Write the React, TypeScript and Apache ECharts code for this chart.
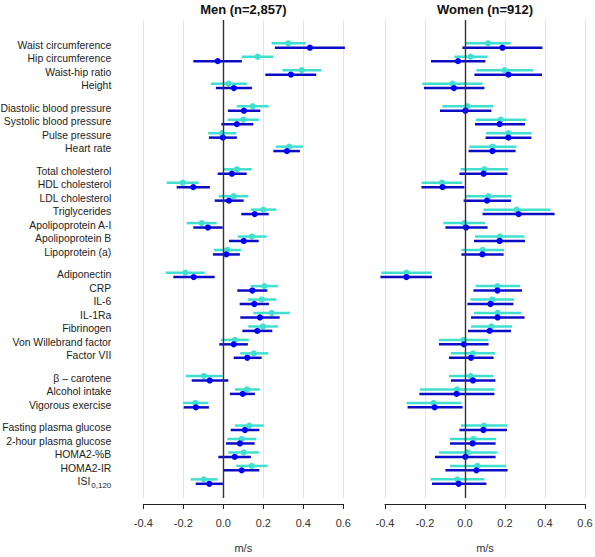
import React, { useEffect, useRef } from "react";
import * as echarts from "echarts";

const labels = [
  "Waist circumference", "Hip circumference", "Waist-hip ratio", "Height",
  "Diastolic blood pressure", "Systolic blood pressure", "Pulse pressure", "Heart rate",
  "Total cholesterol", "HDL cholesterol", "LDL cholesterol", "Triglycerides", "Apolipoprotein A-I", "Apolipoprotein B", "Lipoprotein (a)",
  "Adiponectin", "CRP", "IL-6", "IL-1Ra", "Fibrinogen", "Von Willebrand factor", "Factor VII",
  "β – carotene", "Alcohol intake", "Vigorous exercise",
  "Fasting plasma glucose", "2-hour plasma glucose", "HOMA2-%B", "HOMA2-IR", "ISI_0,120",
];
const groupSizes = [4, 4, 7, 7, 3, 5];
const xTicks = [-0.4, -0.2, 0.0, 0.2, 0.4, 0.6];

// [estimate, lower, upper]
const menCyan = [
  [0.325, 0.242, 0.412], [0.172, 0.093, 0.25], [0.392, 0.295, 0.49], [0.027, -0.062, 0.118],
  [0.147, 0.067, 0.227], [0.1, 0.022, 0.178], [-0.007, -0.075, 0.065], [0.33, 0.263, 0.398],
  [0.068, -0.002, 0.142], [-0.203, -0.283, -0.123], [0.052, -0.022, 0.125], [0.2, 0.137, 0.265],
  [-0.108, -0.183, -0.033], [0.143, 0.072, 0.217], [0.02, -0.047, 0.088],
  [-0.19, -0.288, -0.093], [0.205, 0.137, 0.273], [0.192, 0.122, 0.265], [0.242, 0.15, 0.333],
  [0.198, 0.125, 0.273], [0.058, -0.012, 0.128], [0.153, 0.085, 0.225],
  [-0.097, -0.187, -0.003], [0.118, 0.058, 0.182], [-0.14, -0.202, -0.075],
  [0.13, 0.058, 0.202], [0.092, 0.02, 0.165], [0.102, 0.025, 0.178], [0.142, 0.065, 0.222], [-0.098, -0.163, -0.028],
];
const menBlue = [
  [0.433, 0.258, 0.608], [-0.028, -0.15, 0.093], [0.338, 0.21, 0.465], [0.053, -0.037, 0.143],
  [0.103, 0.023, 0.185], [0.068, -0.01, 0.15], [-0.002, -0.072, 0.068], [0.318, 0.25, 0.383],
  [0.043, -0.028, 0.117], [-0.15, -0.233, -0.067], [0.028, -0.043, 0.102], [0.157, 0.09, 0.227],
  [-0.077, -0.15, -0.003], [0.102, 0.028, 0.177], [0.015, -0.052, 0.083],
  [-0.148, -0.25, -0.043], [0.145, 0.07, 0.22], [0.155, 0.082, 0.228], [0.183, 0.085, 0.282],
  [0.17, 0.095, 0.245], [0.052, -0.02, 0.123], [0.12, 0.052, 0.192],
  [-0.068, -0.158, 0.025], [0.097, 0.033, 0.158], [-0.137, -0.198, -0.072],
  [0.108, 0.037, 0.18], [0.083, 0.013, 0.157], [0.057, -0.025, 0.138], [0.092, 0.003, 0.18], [-0.07, -0.138, -0.002],
];
const womenCyan = [
  [0.115, 0.0, 0.228], [0.028, -0.053, 0.113], [0.198, 0.057, 0.34], [-0.063, -0.213, 0.087],
  [0.012, -0.113, 0.14], [0.178, 0.055, 0.305], [0.217, 0.105, 0.333], [0.138, 0.022, 0.257],
  [0.097, -0.022, 0.215], [-0.115, -0.217, -0.015], [0.117, 0.0, 0.233], [0.258, 0.092, 0.427],
  [-0.003, -0.108, 0.1], [0.175, 0.05, 0.298], [0.088, -0.018, 0.195],
  [-0.293, -0.418, -0.167], [0.162, 0.053, 0.275], [0.137, 0.027, 0.245], [0.163, 0.045, 0.282],
  [0.132, 0.03, 0.235], [-0.007, -0.13, 0.117], [0.04, -0.07, 0.15],
  [0.028, -0.08, 0.14], [-0.04, -0.225, 0.148], [-0.157, -0.292, -0.018],
  [0.095, -0.02, 0.213], [0.042, -0.075, 0.155], [0.013, -0.13, 0.16], [0.062, -0.075, 0.205], [-0.038, -0.172, 0.097],
];
const womenBlue = [
  [0.187, -0.013, 0.387], [-0.035, -0.17, 0.102], [0.217, 0.047, 0.385], [-0.055, -0.205, 0.097],
  [0.002, -0.125, 0.132], [0.173, 0.05, 0.3], [0.217, 0.103, 0.332], [0.137, 0.018, 0.253],
  [0.093, -0.028, 0.212], [-0.112, -0.218, -0.003], [0.11, -0.007, 0.23], [0.268, 0.088, 0.448],
  [0.005, -0.098, 0.113], [0.173, 0.045, 0.3], [0.087, -0.018, 0.193],
  [-0.293, -0.423, -0.165], [0.162, 0.042, 0.285], [0.127, 0.012, 0.242], [0.163, 0.03, 0.298],
  [0.123, 0.015, 0.23], [-0.005, -0.13, 0.118], [0.03, -0.08, 0.143],
  [0.04, -0.07, 0.152], [-0.042, -0.228, 0.147], [-0.152, -0.287, -0.012],
  [0.092, -0.028, 0.21], [0.038, -0.075, 0.153], [0.002, -0.15, 0.153], [0.057, -0.098, 0.213], [-0.032, -0.165, 0.107],
];

const GROUP_GAP = 0.684;
const PAIR_OFFSET = 0.165;

function rowPositions(): number[] {
  const pos: number[] = [];
  let i = 0;
  groupSizes.forEach((n, g) => {
    for (let k = 0; k < n; k++) {
      pos.push(i + g * GROUP_GAP);
      i++;
    }
  });
  return pos;
}

const CYAN = "#40e0d0";
const BLUE_BAR = "#0c0cc4";
const BLUE_DOT = "#0000ff";
const FONT = "Liberation Sans, Arial, sans-serif";

export default function App() {
  const ref = useRef<HTMLDivElement>(null);
  useEffect(() => {
    if (!ref.current) return;
    const chart = echarts.init(ref.current, undefined, { renderer: "svg" });
    const pos = rowPositions();
    const yMin = -1.896;
    const yMax = 33.64;

    const mkData = (arr: number[][], off: number) =>
      arr.map((d, i) => [d[0], d[1], d[2], pos[i] + off]);

    const mkSeries = (arr: number[][], off: number, grid: number, barColor: string, dotColor: string, withZero: boolean) => ({
      type: "custom",
      xAxisIndex: grid,
      yAxisIndex: grid,
      data: mkData(arr, off),
      encode: { x: [0, 1, 2], y: 3 },
      renderItem: (params: any, api: any) => {
        const y = api.value(3);
        const c = api.coord([api.value(0), y]);
        const a = api.coord([api.value(1), y]);
        const b = api.coord([api.value(2), y]);
        return {
          type: "group",
          children: [
            { type: "line", shape: { x1: a[0], y1: a[1], x2: b[0], y2: b[1] }, style: { stroke: barColor, lineWidth: 2.5 } },
            { type: "circle", shape: { cx: c[0], cy: c[1], r: 3.1 }, style: { fill: dotColor } },
          ],
        };
      },
      markLine: withZero
        ? {
            silent: true,
            symbol: ["none", "none"],
            label: { show: false },
            lineStyle: { color: "#333", width: 1.4, type: "solid" },
            data: [{ xAxis: 0 }],
          }
        : undefined,
      z: off < 0 ? 3 : 4,
    });

    const labelSeries = {
      type: "custom",
      xAxisIndex: 0,
      yAxisIndex: 0,
      clip: false,
      silent: true,
      data: pos.map((p, i) => [xTicks[0], p, i]),
      encode: { x: 0, y: 1 },
      renderItem: (params: any, api: any) => {
        const pt = api.coord([api.value(0), api.value(1)]);
        const s = labels[api.value(2)];
        const isSub = s.indexOf("_") >= 0;
        const text = isSub ? "{m|" + s.split("_")[0] + "}{sub|" + s.split("_")[1] + "}" : s;
        return {
          type: "text",
          x: pt[0] - 32,
          y: pt[1],
          style: {
            text,
            textAlign: "right",
            textVerticalAlign: "middle",
            fontSize: 10.4,
            fontFamily: FONT,
            fill: "#222",
            rich: {
              m: { fontSize: 10.4, fontFamily: FONT, fill: "#222", color: "#222", lineHeight: 13 },
              sub: { fontSize: 8, fontFamily: FONT, fill: "#222", color: "#222", padding: [7, 0, 0, 1], lineHeight: 13 },
            },
          },
        };
      },
    };

    const xAxisCommon = (gridIndex: number) => ({
      type: "value",
      gridIndex,
      min: xTicks[0],
      max: xTicks[xTicks.length - 1],
      interval: 0.2,
      offset: 6,
      name: "m/s",
      nameLocation: "middle",
      nameGap: 38,
      nameTextStyle: { color: "#333", fontSize: 11, fontFamily: FONT },
      axisLine: { show: true, onZero: false, lineStyle: { color: "#222", width: 1 } },
      axisTick: { show: true, length: 5, lineStyle: { color: "#222" } },
      axisLabel: {
        color: "#333",
        fontSize: 11,
        fontFamily: FONT,
        margin: 13,
        formatter: (v: number) => v.toFixed(1),
      },
      splitLine: { show: true, lineStyle: { color: "#e4e4e4", width: 1 } },
    });

    const hiddenY = (gridIndex: number) => ({
      type: "value",
      gridIndex,
      min: yMin,
      max: yMax,
      inverse: true,
      axisLine: { show: false },
      axisTick: { show: false },
      splitLine: { show: false },
      axisLabel: { show: false },
    });

    const option: any = {
      animation: false,
      backgroundColor: "#ffffff",
      grid: [
        { left: 143.3, width: 200, top: 20, height: 478, containLabel: false, outerBoundsMode: "none" },
        { left: 385, width: 200, top: 20, height: 478, containLabel: false, outerBoundsMode: "none" },
      ],
      xAxis: [xAxisCommon(0), xAxisCommon(1)],
      yAxis: [hiddenY(0), hiddenY(1)],
      graphic: [
        {
          type: "text",
          x: 243.3,
          y: 3,
          style: { text: "Men (n=2,857)", fontSize: 13, fontWeight: "bold", fontFamily: FONT, fill: "#111", textAlign: "center" },
        },
        {
          type: "text",
          x: 485,
          y: 3,
          style: { text: "Women (n=912)", fontSize: 13, fontWeight: "bold", fontFamily: FONT, fill: "#111", textAlign: "center" },
        },
      ],
      series: [
        mkSeries(menCyan, -PAIR_OFFSET, 0, CYAN, CYAN, true),
        mkSeries(menBlue, PAIR_OFFSET, 0, BLUE_BAR, BLUE_DOT, false),
        mkSeries(womenCyan, -PAIR_OFFSET, 1, CYAN, CYAN, true),
        mkSeries(womenBlue, PAIR_OFFSET, 1, BLUE_BAR, BLUE_DOT, false),
        labelSeries,
      ],
    };
    chart.setOption(option);
    return () => chart.dispose();
  }, []);
  return (
    <div
      ref={ref}
      style={{ position: "absolute", left: 0, top: 0, width: 595, height: 557 }}
    />
  );
}
